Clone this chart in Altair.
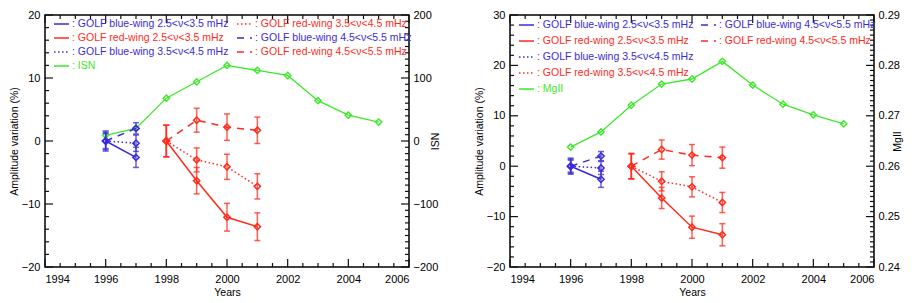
import altair as alt
import pandas as pd

# ---------------- data ----------------
isn_years = [1996, 1997, 1998, 1999, 2000, 2001, 2002, 2003, 2004, 2005]
isn_values = [9, 20, 68, 94, 120, 112, 104, 64, 41, 30]
mgii_values = [0.2638, 0.2668, 0.2721, 0.2763, 0.2773, 0.2808, 0.2761, 0.2723, 0.2702, 0.2684]

blue_years = [1996, 1997]
blue_25 = [0.0, -2.6]
blue_25_err = [1.6, 1.6]
blue_35 = [0.0, -0.35]
blue_35_err = [1.4, 1.3]
blue_45 = [0.0, 2.0]
blue_45_err = [1.2, 0.9]

red_years = [1998, 1999, 2000, 2001]
red_25 = [0.0, -6.3, -12.1, -13.6]
red_25_err = [2.5, 2.1, 2.2, 2.2]
red_35 = [0.0, -3.0, -4.1, -7.2]
red_35_err = [2.5, 1.9, 2.0, 2.0]
red_45 = [0.0, 3.3, 2.2, 1.7]
red_45_err = [2.5, 1.9, 2.1, 2.1]

x_major = [1994, 1996, 1998, 2000, 2002, 2004, 2006]

# ---------------- styles ----------------
FONT = "Liberation Sans"
BLUE = "#3b2bd6"
RED = "#ff2b1c"
GREEN = "#3de82a"
DOT = [1.5, 2.5]
DASH = [7, 6]
W, H = 364, 252
XDOM = [1994, 2006]

series = [
    ("b25", blue_years, blue_25, blue_25_err, BLUE, None, ": GOLF blue-wing 2.5<ν<3.5 mHz"),
    ("r25", red_years, red_25, red_25_err, RED, None, ": GOLF red-wing 2.5<ν<3.5 mHz"),
    ("b35", blue_years, blue_35, blue_35_err, BLUE, DOT, ": GOLF blue-wing 3.5<ν<4.5 mHz"),
    ("r35", red_years, red_35, red_35_err, RED, DOT, ": GOLF red-wing 3.5<ν<4.5 mHz"),
    ("b45", blue_years, blue_45, blue_45_err, BLUE, DASH, ": GOLF blue-wing 4.5<ν<5.5 mHz"),
    ("r45", red_years, red_45, red_45_err, RED, DASH, ": GOLF red-wing 4.5<ν<5.5 mHz"),
]
style = {s[0]: (s[4], s[5], s[6]) for s in series}

one = pd.DataFrame({"k": [0]})


def frange(a, b, step):
    out = []
    v = a
    while v <= b + 1e-9:
        out.append(round(v, 6))
        v += step
    return out


def panel(ydom, sec_title, sec_vals, sec_dom, sec_major, sec_format, legend):
    xs = alt.Scale(domain=XDOM, nice=False, zero=False)
    ys = alt.Scale(domain=ydom, nice=False, zero=False)
    X = lambda f: alt.X(f, scale=xs, axis=None)
    Y = lambda f: alt.Y(f, scale=ys, axis=None)
    layers = []

    # invisible layer carrying the labelled bottom/left axes
    dummy = pd.DataFrame({"x": [2000], "y": [0]})
    layers.append(
        alt.Chart(dummy).mark_point(opacity=0).encode(
            x=alt.X("x:Q", scale=xs, axis=alt.Axis(
                orient="bottom", values=x_major, format="d", ticks=False, domain=False,
                grid=False, title="Years", labelPadding=6, titlePadding=3)),
            y=alt.Y("y:Q", scale=ys, axis=alt.Axis(
                orient="left", values=frange(ydom[0], ydom[1], 10), format="d", ticks=False,
                domain=False, grid=False, title="Amplitude variation (%)", labelPadding=5,
                titlePadding=2, titleAngle=270)),
        )
    )

    # secondary (green) series on right axis
    gs = alt.Scale(domain=sec_dom, nice=False, zero=False)
    gdf = pd.DataFrame({"year": isn_years, "v": sec_vals})
    layers.append(alt.Chart(gdf).mark_line(color=GREEN, strokeWidth=1.3).encode(
        x=X("year:Q"),
        y=alt.Y("v:Q", scale=gs, axis=alt.Axis(
            orient="right", values=sec_major, format=sec_format, ticks=False, domain=False,
            grid=False, title=sec_title, titleAngle=270, labelPadding=4, titlePadding=3))))
    layers.append(alt.Chart(gdf).mark_point(shape="diamond", filled=False, size=40, color=GREEN,
                                            strokeWidth=1.4, opacity=1).encode(
        x=X("year:Q"), y=alt.Y("v:Q", scale=gs, axis=None)))

    # GOLF series
    for key, yrs, vals, errs, color, dash, label in series:
        df = pd.DataFrame({"year": yrs, "v": vals,
                           "lo": [a - e for a, e in zip(vals, errs)],
                           "hi": [a + e for a, e in zip(vals, errs)]})
        base = alt.Chart(df)
        layers.append(base.mark_rule(color=color, strokeWidth=1.5, opacity=0.75).encode(
            x=X("year:Q"), y=Y("lo:Q"), y2="hi:Q"))
        for f in ("lo:Q", "hi:Q"):
            layers.append(base.mark_tick(orient="horizontal", size=6, thickness=1.5,
                                         color=color, opacity=0.75).encode(x=X("year:Q"), y=Y(f)))
        lkw = dict(color=color, strokeWidth=1.5)
        if dash:
            lkw["strokeDash"] = dash
        layers.append(base.mark_line(**lkw).encode(x=X("year:Q"), y=Y("v:Q")))
        layers.append(base.mark_point(shape="diamond", filled=False, size=40, color=color,
                                      strokeWidth=1.5, opacity=1).encode(x=X("year:Q"), y=Y("v:Q")))

    # inward ticks on all four sides, placed through the scales
    y_maj = frange(ydom[0], ydom[1], 10)
    x_min = [v for v in frange(1994, 2006, 0.5) if v not in x_major]
    y_minl = [v for v in frange(ydom[0], ydom[1], 2) if v not in y_maj]
    y_minr = [v for v in frange(ydom[0], ydom[1], 1) if v not in y_maj]
    TK = "#111111"
    for vals, L in [(x_major, 8), (x_min, 4)]:
        d = pd.DataFrame({"t": vals})
        for yv in (H - L / 2, L / 2):
            layers.append(alt.Chart(d).mark_tick(orient="vertical", size=L, thickness=1.2,
                                                 color=TK, opacity=1).encode(
                x=X("t:Q"), y=alt.value(yv)))
    for vals, L, side in [(y_maj, 8, 0), (y_minl, 4, 0), (y_maj, 8, 1), (y_minr, 4, 1)]:
        d = pd.DataFrame({"t": vals})
        xv = L / 2 if side == 0 else W - L / 2
        layers.append(alt.Chart(d).mark_tick(orient="horizontal", size=L, thickness=1.2,
                                             color=TK, opacity=1).encode(
            y=Y("t:Q"), x=alt.value(xv)))

    # in-plot legend
    for key, col_x, row_y in legend:
        if key == "green":
            color, dash, label = GREEN, None, ": " + sec_title
        else:
            color, dash, label = style[key]
        rkw = dict(color=color, strokeWidth=1.5)
        if dash:
            rkw["strokeDash"] = dash
        layers.append(alt.Chart(one).mark_rule(**rkw).encode(
            x=alt.value(col_x), x2=alt.value(col_x + 15), y=alt.value(row_y)))
        layers.append(alt.Chart(one).mark_text(
            align="left", baseline="middle", color=color, font=FONT, fontSize=10.5,
            text=label).encode(x=alt.value(col_x + 18), y=alt.value(row_y)))

    return alt.layer(*layers).resolve_scale(x="independent", y="independent").properties(
        width=W, height=H)


left_legend = [("b25", 9, 9), ("r25", 9, 23), ("b35", 9, 37), ("green", 9, 51),
               ("r35", 192, 9), ("b45", 192, 23), ("r45", 192, 37)]
right_legend = [("b25", 9, 10), ("r25", 9, 26), ("b35", 9, 42), ("r35", 9, 58), ("green", 9, 74),
                ("b45", 191, 10), ("r45", 191, 26)]

left = panel([-20, 20], "ISN", isn_values, [-200, 200], [-200, -100, 0, 100, 200], "d",
             left_legend)
right = panel([-20, 30], "MgII", mgii_values, [0.24, 0.29],
              [0.24, 0.25, 0.26, 0.27, 0.28, 0.29], ".2f", right_legend)

chart = alt.hconcat(left, right, spacing=30).properties(
    padding={"left": 0, "top": 0, "right": 0, "bottom": 0}
).configure_view(stroke="black", strokeWidth=1.5).configure_axis(
    labelFont=FONT, titleFont=FONT, labelFontSize=11, titleFontSize=10.5,
    labelColor="black", titleColor="black", titleFontWeight="normal"
)

chart.save("out.html", embed_options={"renderer": "svg", "actions": False})
